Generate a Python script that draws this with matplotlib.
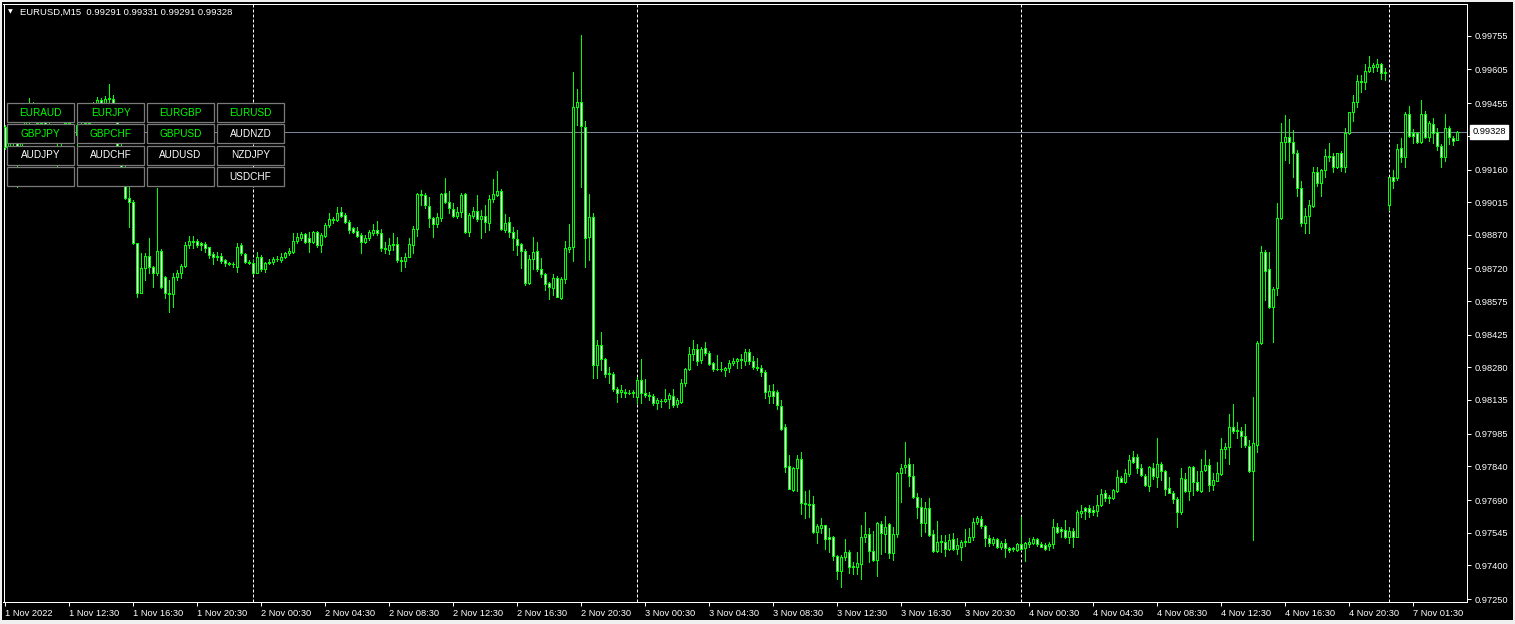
import matplotlib
matplotlib.use("Agg")
import matplotlib.pyplot as plt
import matplotlib.transforms as mtransforms
from matplotlib.patches import Rectangle
import numpy as np

plt.rcParams['font.family'] = ['Liberation Sans', 'DejaVu Sans']

# ---------------- data (EURUSD M15, 1 Nov 2022 08:30 -> 7 Nov 2022 04:15) ----------------
symbol = "EURUSD,M15"

opens = [
    0.99350, 0.99259, 0.99299, 0.99276, 0.99202, 0.99291, 0.99373, 0.99454, 0.99395, 0.99365,
    0.99388, 0.99358, 0.99306, 0.99336, 0.99276, 0.99328, 0.99365, 0.99350, 0.99313, 0.99358,
    0.99328, 0.99365, 0.99410, 0.99447, 0.99469, 0.99447, 0.99472, 0.99472, 0.99424, 0.99261,
    0.99158, 0.99032, 0.99014, 0.98832, 0.98612, 0.98720, 0.98775, 0.98725, 0.98698, 0.98799,
    0.98680, 0.98609, 0.98605, 0.98680, 0.98698, 0.98731, 0.98824, 0.98842, 0.98842, 0.98835,
    0.98829, 0.98814, 0.98784, 0.98772, 0.98777, 0.98757, 0.98743, 0.98741, 0.98728, 0.98824,
    0.98784, 0.98750, 0.98746, 0.98701, 0.98772, 0.98716, 0.98743, 0.98750, 0.98760, 0.98757,
    0.98772, 0.98787, 0.98795, 0.98842, 0.98854, 0.98873, 0.98854, 0.98839, 0.98881, 0.98824,
    0.98864, 0.98913, 0.98938, 0.98935, 0.98972, 0.98958, 0.98928, 0.98898, 0.98888, 0.98869,
    0.98839, 0.98857, 0.98876, 0.98891, 0.98876, 0.98809, 0.98802, 0.98824, 0.98829, 0.98757,
    0.98753, 0.98772, 0.98824, 0.98894, 0.99051, 0.99047, 0.98999, 0.98943, 0.98916, 0.98943,
    0.99054, 0.99017, 0.98984, 0.98955, 0.98972, 0.99050, 0.98880, 0.98955, 0.98977, 0.98938,
    0.98955, 0.98924, 0.99027, 0.99048, 0.99066, 0.98891, 0.98925, 0.98880, 0.98849, 0.98827,
    0.98799, 0.98654, 0.98760, 0.98798, 0.98716, 0.98694, 0.98654, 0.98632, 0.98676, 0.98590,
    0.98671, 0.98806, 0.98817, 0.99439, 0.99462, 0.99350, 0.98861, 0.98950, 0.98291, 0.98380,
    0.98316, 0.98254, 0.98249, 0.98185, 0.98171, 0.98168, 0.98165, 0.98165, 0.98150, 0.98224,
    0.98165, 0.98157, 0.98153, 0.98123, 0.98132, 0.98132, 0.98138, 0.98154, 0.98117, 0.98128,
    0.98209, 0.98271, 0.98338, 0.98360, 0.98313, 0.98365, 0.98342, 0.98298, 0.98271, 0.98271,
    0.98268, 0.98276, 0.98298, 0.98310, 0.98317, 0.98310, 0.98347, 0.98308, 0.98280, 0.98276,
    0.98261, 0.98154, 0.98175, 0.98169, 0.98110, 0.98013, 0.97841, 0.97735, 0.97831, 0.97871,
    0.97678, 0.97674, 0.97671, 0.97549, 0.97567, 0.97579, 0.97527, 0.97527, 0.97443, 0.97374,
    0.97435, 0.97457, 0.97397, 0.97391, 0.97404, 0.97524, 0.97537, 0.97465, 0.97423, 0.97582,
    0.97539, 0.97582, 0.97456, 0.97539, 0.97809, 0.97836, 0.97849, 0.97797, 0.97705, 0.97661,
    0.97586, 0.97653, 0.97538, 0.97465, 0.97502, 0.97502, 0.97472, 0.97515, 0.97472, 0.97483,
    0.97504, 0.97505, 0.97524, 0.97594, 0.97604, 0.97575, 0.97520, 0.97500, 0.97515, 0.97483,
    0.97497, 0.97475, 0.97471, 0.97468, 0.97493, 0.97475, 0.97495, 0.97498, 0.97515, 0.97493,
    0.97490, 0.97487, 0.97495, 0.97569, 0.97561, 0.97557, 0.97527, 0.97552, 0.97527, 0.97634,
    0.97653, 0.97653, 0.97646, 0.97643, 0.97668, 0.97720, 0.97698, 0.97698, 0.97732, 0.97787,
    0.97772, 0.97806, 0.97883, 0.97883, 0.97831, 0.97799, 0.97754, 0.97831, 0.97794, 0.97849,
    0.97821, 0.97742, 0.97723, 0.97693, 0.97636, 0.97782, 0.97732, 0.97838, 0.97769, 0.97732,
    0.97824, 0.97846, 0.97757, 0.97776, 0.97806, 0.97916, 0.97927, 0.98016, 0.98002, 0.97997,
    0.97975, 0.97932, 0.97821, 0.97935, 0.98387, 0.98792, 0.98716, 0.98547, 0.98632, 0.98943,
    0.99281, 0.99306, 0.99281, 0.99232, 0.99076, 0.98921, 0.98955, 0.98999, 0.99150, 0.99098,
    0.99158, 0.99221, 0.99222, 0.99170, 0.99232, 0.99170, 0.99321, 0.99414, 0.99459, 0.99555,
    0.99551, 0.99598, 0.99617, 0.99614, 0.99629, 0.99592, 0.99002, 0.99125, 0.99121, 0.99254,
    0.99214, 0.99405, 0.99321, 0.99321, 0.99281, 0.99405, 0.99303, 0.99362, 0.99328, 0.99266,
    0.99214, 0.99343, 0.99299, 0.99291,
]

highs = [
    0.99357, 0.99313, 0.99321, 0.99284, 0.99306, 0.99383, 0.99477, 0.99462, 0.99410, 0.99402,
    0.99395, 0.99373, 0.99350, 0.99343, 0.99343, 0.99380, 0.99377, 0.99358, 0.99368, 0.99371,
    0.99380, 0.99425, 0.99462, 0.99481, 0.99477, 0.99487, 0.99540, 0.99491, 0.99439, 0.99321,
    0.99195, 0.99084, 0.99024, 0.98835, 0.98787, 0.98787, 0.98854, 0.98731, 0.99076, 0.98805,
    0.98686, 0.98669, 0.98698, 0.98713, 0.98740, 0.98839, 0.98864, 0.98864, 0.98850, 0.98839,
    0.98839, 0.98817, 0.98795, 0.98795, 0.98787, 0.98762, 0.98750, 0.98750, 0.98832, 0.98835,
    0.98790, 0.98758, 0.98758, 0.98795, 0.98780, 0.98750, 0.98761, 0.98772, 0.98775, 0.98787,
    0.98795, 0.98809, 0.98876, 0.98876, 0.98884, 0.98879, 0.98884, 0.98888, 0.98888, 0.98876,
    0.98921, 0.98965, 0.98950, 0.98995, 0.98995, 0.98968, 0.98935, 0.98906, 0.98906, 0.98876,
    0.98869, 0.98891, 0.98916, 0.98931, 0.98894, 0.98836, 0.98854, 0.98876, 0.98858, 0.98772,
    0.98787, 0.98854, 0.98909, 0.99054, 0.99069, 0.99054, 0.99039, 0.98950, 0.98968, 0.99057,
    0.99121, 0.99064, 0.99013, 0.98995, 0.99054, 0.99054, 0.98968, 0.98992, 0.99047, 0.98980,
    0.99002, 0.99047, 0.99118, 0.99153, 0.99072, 0.98962, 0.98947, 0.98906, 0.98891, 0.98832,
    0.98805, 0.98780, 0.98858, 0.98839, 0.98765, 0.98698, 0.98661, 0.98695, 0.98686, 0.98681,
    0.98842, 0.98916, 0.99592, 0.99517, 0.99758, 0.99377, 0.99051, 0.98965, 0.98402, 0.98436,
    0.98320, 0.98280, 0.98261, 0.98191, 0.98202, 0.98184, 0.98179, 0.98179, 0.98239, 0.98317,
    0.98227, 0.98172, 0.98162, 0.98142, 0.98138, 0.98184, 0.98165, 0.98184, 0.98142, 0.98227,
    0.98276, 0.98369, 0.98402, 0.98384, 0.98369, 0.98391, 0.98353, 0.98305, 0.98335, 0.98302,
    0.98280, 0.98313, 0.98320, 0.98320, 0.98340, 0.98360, 0.98360, 0.98331, 0.98320, 0.98291,
    0.98268, 0.98202, 0.98205, 0.98179, 0.98135, 0.98028, 0.97890, 0.97839, 0.97890, 0.97902,
    0.97730, 0.97735, 0.97710, 0.97582, 0.97612, 0.97579, 0.97564, 0.97530, 0.97446, 0.97446,
    0.97517, 0.97468, 0.97413, 0.97458, 0.97579, 0.97638, 0.97564, 0.97552, 0.97594, 0.97597,
    0.97619, 0.97589, 0.97572, 0.97816, 0.97850, 0.97950, 0.97879, 0.97849, 0.97723, 0.97698,
    0.97680, 0.97701, 0.97557, 0.97597, 0.97535, 0.97535, 0.97539, 0.97545, 0.97520, 0.97512,
    0.97561, 0.97564, 0.97609, 0.97619, 0.97619, 0.97579, 0.97535, 0.97524, 0.97520, 0.97508,
    0.97515, 0.97483, 0.97483, 0.97498, 0.97616, 0.97502, 0.97520, 0.97527, 0.97520, 0.97502,
    0.97498, 0.97505, 0.97604, 0.97587, 0.97572, 0.97601, 0.97569, 0.97567, 0.97646, 0.97668,
    0.97661, 0.97668, 0.97664, 0.97713, 0.97738, 0.97735, 0.97713, 0.97738, 0.97824, 0.97799,
    0.97827, 0.97890, 0.97908, 0.97895, 0.97850, 0.97806, 0.97843, 0.97853, 0.97965, 0.97861,
    0.97824, 0.97791, 0.97732, 0.97705, 0.97831, 0.97809, 0.97842, 0.97843, 0.97821, 0.97871,
    0.97913, 0.97871, 0.97809, 0.97859, 0.97965, 0.97942, 0.98071, 0.98117, 0.98036, 0.98016,
    0.98028, 0.97957, 0.98150, 0.98397, 0.98820, 0.98802, 0.98792, 0.98639, 0.99010, 0.99368,
    0.99402, 0.99385, 0.99336, 0.99247, 0.99110, 0.98987, 0.99024, 0.99173, 0.99170, 0.99161,
    0.99251, 0.99276, 0.99235, 0.99235, 0.99242, 0.99343, 0.99417, 0.99491, 0.99580, 0.99580,
    0.99629, 0.99665, 0.99635, 0.99650, 0.99632, 0.99610, 0.99128, 0.99158, 0.99273, 0.99299,
    0.99417, 0.99442, 0.99339, 0.99325, 0.99469, 0.99420, 0.99376, 0.99388, 0.99343, 0.99273,
    0.99407, 0.99353, 0.99309, 0.99331,
]

lows = [
    0.99250, 0.99247, 0.99259, 0.99084, 0.99187, 0.99284, 0.99365, 0.99383, 0.99350, 0.99350,
    0.99343, 0.99291, 0.99284, 0.99173, 0.99262, 0.99318, 0.99336, 0.99303, 0.99269, 0.99318,
    0.99313, 0.99358, 0.99398, 0.99432, 0.99425, 0.99439, 0.99457, 0.99410, 0.99254, 0.99150,
    0.99027, 0.98906, 0.98829, 0.98592, 0.98609, 0.98669, 0.98698, 0.98639, 0.98691, 0.98632,
    0.98587, 0.98528, 0.98550, 0.98669, 0.98676, 0.98725, 0.98809, 0.98812, 0.98817, 0.98802,
    0.98795, 0.98765, 0.98738, 0.98758, 0.98743, 0.98732, 0.98735, 0.98728, 0.98706, 0.98780,
    0.98746, 0.98740, 0.98695, 0.98698, 0.98710, 0.98706, 0.98740, 0.98740, 0.98753, 0.98750,
    0.98765, 0.98780, 0.98790, 0.98835, 0.98846, 0.98832, 0.98795, 0.98832, 0.98817, 0.98795,
    0.98858, 0.98906, 0.98921, 0.98933, 0.98947, 0.98921, 0.98876, 0.98876, 0.98858, 0.98790,
    0.98832, 0.98846, 0.98869, 0.98869, 0.98799, 0.98787, 0.98784, 0.98802, 0.98750, 0.98710,
    0.98728, 0.98769, 0.98790, 0.98866, 0.99002, 0.98990, 0.98906, 0.98861, 0.98906, 0.98932,
    0.99010, 0.98965, 0.98950, 0.98943, 0.98950, 0.98876, 0.98866, 0.98943, 0.98932, 0.98857,
    0.98884, 0.98891, 0.99017, 0.99044, 0.98891, 0.98884, 0.98861, 0.98802, 0.98780, 0.98723,
    0.98646, 0.98651, 0.98716, 0.98710, 0.98683, 0.98624, 0.98586, 0.98602, 0.98592, 0.98586,
    0.98654, 0.98795, 0.98755, 0.99358, 0.99084, 0.98728, 0.98758, 0.98231, 0.98231, 0.98268,
    0.98239, 0.98212, 0.98175, 0.98128, 0.98150, 0.98150, 0.98160, 0.98150, 0.98123, 0.98123,
    0.98150, 0.98135, 0.98113, 0.98095, 0.98105, 0.98128, 0.98101, 0.98105, 0.98105, 0.98123,
    0.98199, 0.98268, 0.98313, 0.98291, 0.98298, 0.98335, 0.98291, 0.98265, 0.98268, 0.98265,
    0.98243, 0.98261, 0.98291, 0.98279, 0.98279, 0.98291, 0.98295, 0.98271, 0.98268, 0.98243,
    0.98142, 0.98123, 0.98123, 0.98095, 0.98002, 0.97816, 0.97738, 0.97730, 0.97730, 0.97628,
    0.97612, 0.97616, 0.97545, 0.97501, 0.97545, 0.97471, 0.97461, 0.97423, 0.97338, 0.97302,
    0.97423, 0.97367, 0.97360, 0.97360, 0.97338, 0.97502, 0.97413, 0.97419, 0.97352, 0.97449,
    0.97461, 0.97434, 0.97423, 0.97527, 0.97683, 0.97812, 0.97754, 0.97698, 0.97612, 0.97532,
    0.97549, 0.97532, 0.97461, 0.97461, 0.97461, 0.97443, 0.97468, 0.97468, 0.97450, 0.97423,
    0.97486, 0.97502, 0.97512, 0.97582, 0.97564, 0.97486, 0.97486, 0.97490, 0.97478, 0.97472,
    0.97438, 0.97461, 0.97465, 0.97465, 0.97468, 0.97421, 0.97483, 0.97493, 0.97487, 0.97480,
    0.97468, 0.97468, 0.97475, 0.97542, 0.97527, 0.97520, 0.97501, 0.97483, 0.97524, 0.97616,
    0.97604, 0.97616, 0.97624, 0.97619, 0.97665, 0.97687, 0.97678, 0.97695, 0.97727, 0.97769,
    0.97764, 0.97799, 0.97853, 0.97809, 0.97797, 0.97753, 0.97732, 0.97782, 0.97750, 0.97779,
    0.97713, 0.97720, 0.97678, 0.97572, 0.97628, 0.97724, 0.97690, 0.97713, 0.97732, 0.97727,
    0.97821, 0.97732, 0.97735, 0.97775, 0.97802, 0.97876, 0.97850, 0.97987, 0.97965, 0.97928,
    0.97928, 0.97816, 0.97512, 0.97905, 0.98384, 0.98580, 0.98543, 0.98394, 0.98602, 0.98940,
    0.99202, 0.99187, 0.99128, 0.99044, 0.98909, 0.98876, 0.98879, 0.98995, 0.99087, 0.99044,
    0.99128, 0.99199, 0.99150, 0.99165, 0.99155, 0.99147, 0.99318, 0.99377, 0.99439, 0.99506,
    0.99518, 0.99595, 0.99595, 0.99600, 0.99562, 0.99558, 0.98980, 0.99079, 0.99113, 0.99192,
    0.99173, 0.99303, 0.99276, 0.99276, 0.99276, 0.99299, 0.99288, 0.99279, 0.99247, 0.99173,
    0.99199, 0.99273, 0.99269, 0.99291,
]

closes = [
    0.99259, 0.99299, 0.99276, 0.99202, 0.99291, 0.99373, 0.99454, 0.99395, 0.99365, 0.99388,
    0.99358, 0.99306, 0.99336, 0.99276, 0.99328, 0.99365, 0.99350, 0.99313, 0.99358, 0.99328,
    0.99365, 0.99410, 0.99447, 0.99469, 0.99447, 0.99472, 0.99477, 0.99425, 0.99262, 0.99158,
    0.99032, 0.99017, 0.98832, 0.98612, 0.98721, 0.98775, 0.98725, 0.98701, 0.98799, 0.98639,
    0.98609, 0.98605, 0.98681, 0.98698, 0.98731, 0.98824, 0.98842, 0.98839, 0.98824, 0.98824,
    0.98809, 0.98780, 0.98772, 0.98775, 0.98753, 0.98743, 0.98741, 0.98738, 0.98814, 0.98787,
    0.98750, 0.98746, 0.98701, 0.98772, 0.98716, 0.98743, 0.98750, 0.98761, 0.98762, 0.98772,
    0.98787, 0.98799, 0.98842, 0.98858, 0.98873, 0.98839, 0.98839, 0.98881, 0.98824, 0.98869,
    0.98913, 0.98938, 0.98935, 0.98968, 0.98953, 0.98928, 0.98891, 0.98884, 0.98864, 0.98839,
    0.98857, 0.98884, 0.98891, 0.98876, 0.98809, 0.98805, 0.98824, 0.98829, 0.98758, 0.98755,
    0.98772, 0.98827, 0.98894, 0.99051, 0.99047, 0.99002, 0.98943, 0.98916, 0.98947, 0.99051,
    0.99017, 0.98987, 0.98955, 0.98973, 0.99047, 0.98881, 0.98958, 0.98977, 0.98938, 0.98955,
    0.98925, 0.99027, 0.99050, 0.99063, 0.98894, 0.98921, 0.98881, 0.98854, 0.98824, 0.98799,
    0.98654, 0.98761, 0.98795, 0.98716, 0.98694, 0.98651, 0.98636, 0.98676, 0.98595, 0.98672,
    0.98809, 0.98815, 0.99439, 0.99459, 0.99355, 0.98854, 0.98947, 0.98291, 0.98380, 0.98316,
    0.98249, 0.98249, 0.98185, 0.98168, 0.98179, 0.98171, 0.98165, 0.98171, 0.98224, 0.98165,
    0.98157, 0.98154, 0.98120, 0.98135, 0.98132, 0.98138, 0.98157, 0.98113, 0.98135, 0.98209,
    0.98271, 0.98338, 0.98360, 0.98308, 0.98360, 0.98342, 0.98294, 0.98271, 0.98271, 0.98271,
    0.98276, 0.98298, 0.98308, 0.98317, 0.98313, 0.98347, 0.98310, 0.98283, 0.98276, 0.98261,
    0.98172, 0.98175, 0.98154, 0.98113, 0.98006, 0.97839, 0.97739, 0.97831, 0.97871, 0.97676,
    0.97673, 0.97667, 0.97547, 0.97575, 0.97579, 0.97515, 0.97515, 0.97443, 0.97375, 0.97435,
    0.97458, 0.97394, 0.97391, 0.97409, 0.97524, 0.97538, 0.97465, 0.97423, 0.97587, 0.97542,
    0.97572, 0.97456, 0.97539, 0.97809, 0.97831, 0.97846, 0.97798, 0.97705, 0.97661, 0.97587,
    0.97653, 0.97533, 0.97465, 0.97502, 0.97508, 0.97472, 0.97512, 0.97472, 0.97490, 0.97502,
    0.97508, 0.97524, 0.97591, 0.97609, 0.97576, 0.97520, 0.97500, 0.97517, 0.97483, 0.97498,
    0.97475, 0.97468, 0.97475, 0.97493, 0.97472, 0.97498, 0.97502, 0.97515, 0.97493, 0.97483,
    0.97472, 0.97495, 0.97569, 0.97549, 0.97554, 0.97527, 0.97552, 0.97527, 0.97635, 0.97641,
    0.97643, 0.97638, 0.97638, 0.97668, 0.97716, 0.97701, 0.97705, 0.97735, 0.97791, 0.97772,
    0.97809, 0.97868, 0.97858, 0.97831, 0.97802, 0.97757, 0.97836, 0.97797, 0.97849, 0.97821,
    0.97738, 0.97723, 0.97693, 0.97638, 0.97787, 0.97732, 0.97839, 0.97769, 0.97735, 0.97821,
    0.97846, 0.97757, 0.97779, 0.97809, 0.97917, 0.97928, 0.98016, 0.97999, 0.97997, 0.97976,
    0.97935, 0.97821, 0.97945, 0.98387, 0.98792, 0.98710, 0.98547, 0.98627, 0.98943, 0.99281,
    0.99306, 0.99284, 0.99232, 0.99076, 0.98921, 0.98955, 0.99002, 0.99147, 0.99099, 0.99158,
    0.99222, 0.99217, 0.99173, 0.99232, 0.99170, 0.99321, 0.99414, 0.99459, 0.99555, 0.99548,
    0.99598, 0.99617, 0.99625, 0.99629, 0.99591, 0.99588, 0.99125, 0.99110, 0.99250, 0.99214,
    0.99405, 0.99311, 0.99311, 0.99281, 0.99405, 0.99303, 0.99365, 0.99324, 0.99266, 0.99214,
    0.99343, 0.99303, 0.99288, 0.99328,
]

# time axis labels (every 16 bars = 4 hours)
x_tick_bars = [0, 16, 32, 48, 64, 80, 96, 112, 128, 144, 160, 176,
               192, 208, 224, 240, 256, 272, 288, 304, 320, 336, 352]
x_tick_labels = ["1 Nov 2022", "1 Nov 12:30", "1 Nov 16:30", "1 Nov 20:30",
                 "2 Nov 00:30", "2 Nov 04:30", "2 Nov 08:30", "2 Nov 12:30",
                 "2 Nov 16:30", "2 Nov 20:30", "3 Nov 00:30", "3 Nov 04:30",
                 "3 Nov 08:30", "3 Nov 12:30", "3 Nov 16:30", "3 Nov 20:30",
                 "4 Nov 00:30", "4 Nov 04:30", "4 Nov 08:30", "4 Nov 12:30",
                 "4 Nov 16:30", "4 Nov 20:30", "7 Nov 01:30"]
# day separators (first bar of each day)
day_start_bars = [62, 158, 254, 346]

y_tick_values = [0.99755, 0.99605, 0.99455, 0.99310, 0.99160, 0.99015, 0.98870,
                 0.98720, 0.98575, 0.98425, 0.98280, 0.98135, 0.97985, 0.97840,
                 0.97690, 0.97545, 0.97400, 0.97250]

button_rows = [["EURAUD", "EURJPY", "EURGBP", "EURUSD"],
               ["GBPJPY", "GBPCHF", "GBPUSD", "AUDNZD"],
               ["AUDJPY", "AUDCHF", "AUDUSD", "NZDJPY"],
               ["", "", "", "USDCHF"]]
green_buttons = ["EURAUD", "EURJPY", "EURGBP", "EURUSD", "GBPJPY", "GBPCHF", "GBPUSD"]

# ---------------- figure ----------------
W, H = 1515, 624
fig = plt.figure(figsize=(W / 100, H / 100), dpi=100, facecolor='#f0f0f0')

def fx(px):
    return px / W

def fy(py):
    return 1 - py / H

# black terminal window
fig.add_artist(Rectangle((fx(2), fy(620)), fx(1511), 618 / H, transform=fig.transFigure,
                         facecolor='black', edgecolor='none', zorder=-5))

ax = fig.add_axes([fx(3.5), fy(602), (1467 - 3.5) / W, (602 - 3.5) / H])
ax.set_facecolor('black')

LIME = '#00ff00'
o = np.array(opens)
h = np.array(highs)
l = np.array(lows)
c = np.array(closes)
idx = np.arange(len(c))

ax.vlines(idx, l, h, colors=LIME, linewidth=0.72, antialiased=False, zorder=2)
bottoms = np.minimum(o, c)
heights = np.abs(c - o)
faces = ['white' if cc < oo else 'black' for oo, cc in zip(o, c)]
ax.bar(idx, heights, width=0.5, bottom=bottoms, color=faces, edgecolor=LIME,
       linewidth=0.72, antialiased=False, zorder=3)

for s in day_start_bars:
    ax.axvline(s, color='white', linewidth=0.72, linestyle=(0, (3, 2)), zorder=1)

ax.axhline(c[-1], color='#778899', linewidth=0.72, zorder=1.5)

ax.set_xlim(-0.375, 365.5)
ax.set_ylim(0.972367, 0.998982)

for sp in ax.spines.values():
    sp.set_color('white')
    sp.set_linewidth(0.72)

ax.yaxis.tick_right()
ax.set_yticks(y_tick_values)
ax.set_yticklabels([f"{v:.5f}" for v in y_tick_values])
ax.tick_params(axis='y', colors='white', length=3, width=0.72, pad=2.5, labelsize=6.7)

ax.set_xticks(x_tick_bars)
ax.set_xticklabels(x_tick_labels, ha='left')
ax.tick_params(axis='x', colors='white', length=3, width=0.72, pad=2, labelsize=6.7)

# current price box
trans = mtransforms.blended_transform_factory(ax.transAxes, ax.transData)
ax.text(1.0038, c[-1], f"{c[-1]:.5f}", transform=trans, ha='left', va='center',
        fontsize=6.7, color='black', clip_on=False, zorder=10,
        bbox=dict(boxstyle='square,pad=0.25', facecolor='white', edgecolor='white'))

# title
fig.text(fx(8), fy(12), "\u25BC", fontsize=4.5, color='white', va='center', ha='left',
         family=['DejaVu Sans'])
fig.text(fx(20), fy(12.5),
         f"{symbol}  {o[-1]:.5f} {h[-1]:.5f} {l[-1]:.5f} {c[-1]:.5f}",
         fontsize=6.8, color='white', va='center', ha='left')

# symbol buttons
bw, bh = 67.5, 19
for r, row in enumerate(button_rows):
    for k, name in enumerate(row):
        x0 = 6.7 + 70 * k
        y0 = 103.3 + 21.1 * r
        fig.add_artist(Rectangle((fx(x0), fy(y0 + bh)), bw / W, bh / H,
                                 transform=fig.transFigure, facecolor='black',
                                 edgecolor='#7a7a7a', linewidth=0.9, zorder=5))
        if name:
            col = LIME if name in green_buttons else 'white'
            fig.text(fx(x0 + bw / 2), fy(y0 + bh / 2 + 0.5), name, color=col,
                     ha='center', va='center', fontsize=7.2, zorder=6)

fig.savefig("out.png", dpi=100, facecolor=fig.get_facecolor())
